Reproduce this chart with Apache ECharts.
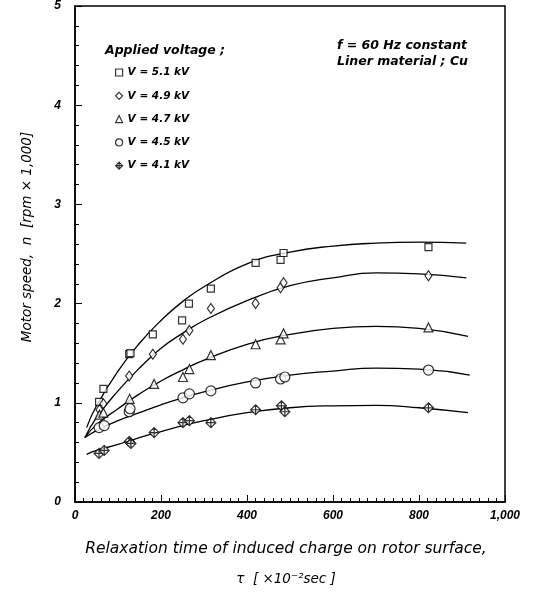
<!DOCTYPE html>
<html>
<head>
<meta charset="utf-8">
<script src="https://cdn.jsdelivr.net/npm/echarts@6/dist/echarts.min.js"></script>
<style>
  html, body { margin: 0; padding: 0; background: #fff; }
  #chart { width: 540px; height: 592px; }
</style>
</head>
<body>
<div id="chart"></div>
<script>
// measured points, [tau (x10^-2 sec), speed (x1000 rpm)]
var v51 = [[56, 1.01], [66, 1.14], [126, 1.49], [129, 1.50], [181, 1.69], [249, 1.83], [265, 2.00],
           [316, 2.15], [420, 2.41], [478, 2.44], [485, 2.51], [822, 2.57]];
var v49 = [[57, 0.93], [66, 0.99], [126, 1.27], [181, 1.49], [251, 1.64], [266, 1.73], [316, 1.95],
           [420, 2.00], [478, 2.16], [485, 2.21], [822, 2.28]];
var v47 = [[57, 0.88], [66, 0.90], [127, 1.04], [184, 1.19], [251, 1.26], [266, 1.34], [316, 1.48],
           [420, 1.59], [478, 1.64], [485, 1.70], [822, 1.76]];
var v45 = [[56, 0.75], [68, 0.77], [126, 0.91], [128, 0.94], [251, 1.05], [266, 1.09], [316, 1.12],
           [420, 1.20], [478, 1.24], [488, 1.26], [822, 1.33]];
var v41 = [[56, 0.49], [68, 0.52], [126, 0.61], [130, 0.59], [184, 0.70], [251, 0.80], [266, 0.82],
           [316, 0.80], [420, 0.93], [480, 0.97], [488, 0.91], [822, 0.95]];

// fitted curves
var fit51 = [[27, 0.75], [50, 0.97], [100, 1.32], [150, 1.60], [200, 1.83], [250, 2.02], [300, 2.17],
             [400, 2.40], [500, 2.52], [600, 2.58], [700, 2.61], [800, 2.62], [910, 2.61]];
var fit49 = [[23, 0.65], [50, 0.85], [100, 1.12], [150, 1.35], [200, 1.55], [250, 1.70], [300, 1.83],
             [400, 2.03], [500, 2.18], [600, 2.26], [700, 2.31], [800, 2.30], [910, 2.26]];
var fit47 = [[23, 0.65], [50, 0.78], [100, 0.94], [150, 1.09], [200, 1.22], [250, 1.33], [300, 1.43],
             [400, 1.59], [500, 1.69], [600, 1.75], [700, 1.77], [800, 1.75], [914, 1.67]];
var fit45 = [[23, 0.65], [50, 0.72], [100, 0.82], [150, 0.90], [200, 0.98], [250, 1.05], [300, 1.11],
             [400, 1.21], [500, 1.28], [600, 1.32], [700, 1.35], [800, 1.34], [918, 1.28]];
var fit41 = [[27, 0.48], [50, 0.52], [100, 0.58], [150, 0.65], [200, 0.71], [250, 0.77], [300, 0.82],
             [400, 0.90], [500, 0.95], [600, 0.97], [700, 0.975], [800, 0.95], [914, 0.90]];

var names = ['V = 5.1 kV', 'V = 4.9 kV', 'V = 4.7 kV', 'V = 4.5 kV', 'V = 4.1 kV'];

var chart = echarts.init(document.getElementById('chart'));

var font = 'Liberation Sans, Arial, Helvetica, sans-serif';
var wide = 'DejaVu Sans, Verdana, sans-serif';
var diamondPlus = 'path://M0,-10L10,0L0,10L-10,0Z M0,-10L0,10 M-10,0L10,0';

function pts(name, data, symbol, size) {
    return {
        name: name,
        type: 'scatter',
        data: data,
        symbol: symbol,
        symbolSize: size,
        itemStyle: { color: '#fff', borderColor: '#000', borderWidth: 1.2 },
        z: 3
    };
}

function curve(data) {
    return {
        type: 'line',
        data: data,
        smooth: true,
        showSymbol: false,
        silent: true,
        lineStyle: { color: '#000', width: 1.3 },
        z: 2
    };
}

option = {
    animation: false,
    backgroundColor: '#fff',
    title: [
        {
            text: 'Applied voltage ;',
            left: 105, top: 44, padding: 0,
            textStyle: { fontFamily: wide, fontSize: 12.5, fontWeight: 'bold', fontStyle: 'italic', color: '#000' }
        },
        {
            text: 'f = 60 Hz constant\nLiner material ; Cu',
            left: 337, top: 38, padding: 0,
            textStyle: { fontFamily: wide, fontSize: 12.5, fontWeight: 'bold', fontStyle: 'italic',
                         color: '#000', lineHeight: 16 }
        }
    ],
    legend: {
        data: names,
        orient: 'vertical',
        left: 115, top: 67, padding: 0,
        itemWidth: 7, itemHeight: 7,
        itemGap: 12.3,
        itemStyle: { color: '#fff', borderColor: '#000', borderWidth: 1.2 },
        textStyle: { fontFamily: wide, fontSize: 10.5, fontWeight: 'bold', fontStyle: 'italic', color: '#000' }
    },
    grid: {
        left: 75, right: 35, top: 5, bottom: 90,
        show: true,
        borderColor: '#000',
        borderWidth: 1.5
    },
    xAxis: {
        type: 'value',
        min: 0, max: 1000, interval: 200,
        axisLine: { lineStyle: { color: '#000', width: 1.5 } },
        axisTick: { inside: true, length: 7, lineStyle: { color: '#000' } },
        minorTick: { show: true, splitNumber: 10, length: 4, lineStyle: { color: '#000' } },
        splitLine: { show: false },
        axisLabel: {
            margin: 8,
            fontFamily: font, fontSize: 12, fontWeight: 'bold', fontStyle: 'italic', color: '#000',
            formatter: function (v) { return v === 1000 ? '1,000' : v; }
        }
    },
    yAxis: {
        type: 'value',
        min: 0, max: 5, interval: 1,
        axisLine: { lineStyle: { color: '#000', width: 1.5 } },
        axisTick: { inside: true, length: 7, lineStyle: { color: '#000' } },
        minorTick: { show: true, splitNumber: 5, length: 4, lineStyle: { color: '#000' } },
        splitLine: { show: false },
        axisLabel: {
            margin: 14,
            fontFamily: font, fontSize: 12, fontWeight: 'bold', fontStyle: 'italic', color: '#000'
        }
    },
    graphic: [
        {
            type: 'text',
            x: 27, y: 237,
            rotation: Math.PI / 2,
            style: {
                text: 'Motor speed,  n  [rpm × 1,000]',
                fontFamily: wide, fontSize: 13.5, fontStyle: 'italic', fill: '#000',
                align: 'center', verticalAlign: 'middle'
            }
        },
        {
            type: 'text',
            x: 286, y: 549,
            style: {
                text: 'Relaxation time of induced charge on rotor surface,',
                fontFamily: wide, fontSize: 15.5, fontStyle: 'italic', fill: '#000',
                align: 'center', verticalAlign: 'middle'
            }
        },
        {
            type: 'text',
            x: 286, y: 579,
            style: {
                text: 'τ  [ ×10⁻²sec ]',
                fontFamily: wide, fontSize: 13.5, fontStyle: 'italic', fill: '#000',
                align: 'center', verticalAlign: 'middle'
            }
        }
    ],
    series: [
        curve(fit51), curve(fit49), curve(fit47), curve(fit45), curve(fit41),
        pts(names[0], v51, 'rect', 7),
        pts(names[1], v49, 'diamond', [7, 10]),
        pts(names[2], v47, 'triangle', 9),
        pts(names[3], v45, 'circle', 10),
        pts(names[4], v41, diamondPlus, 10)
    ]
};

chart.setOption(option);
</script>
</body>
</html>
